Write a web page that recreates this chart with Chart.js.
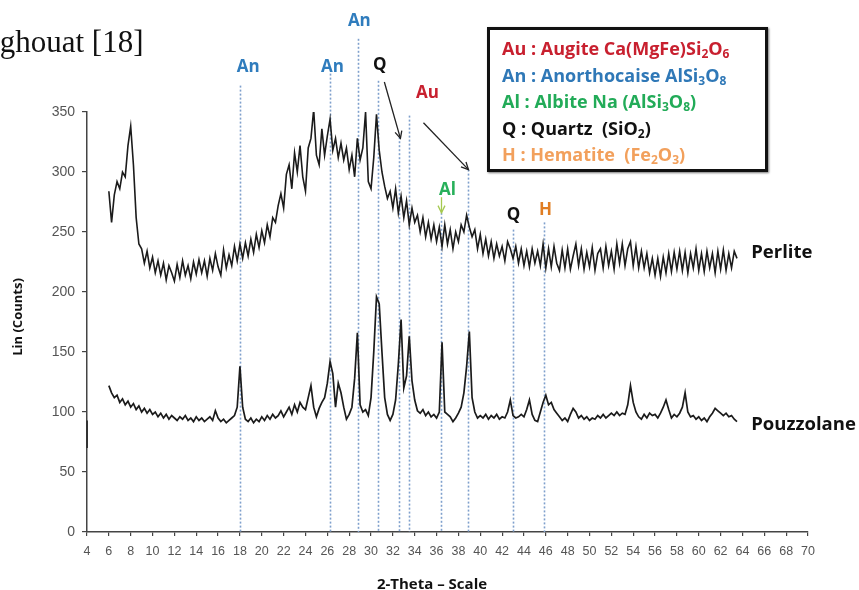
<!DOCTYPE html>
<html>
<head>
<meta charset="utf-8">
<script src="https://cdn.jsdelivr.net/npm/chart.js@4"></script>
<style>
  html, body { margin:0; padding:0; background:#fff; width:859px; height:590px; overflow:hidden; }
  #wrap { position:relative; width:859px; height:590px; }
  canvas { position:absolute; left:0; top:0; }
  #caption { position:absolute; left:-33px; top:24px; font-family:"Liberation Serif", "Times New Roman", serif; font-size:31px; line-height:36px; color:#111; white-space:nowrap; }
  #key { position:absolute; left:487px; top:27px; width:263px; height:139px; border:3px solid #111; box-shadow:1px 1px 2px #777; background:#fff;
         font-family:"Open Sans", sans-serif; font-weight:700; font-size:18px; padding:0 0 0 12px; box-sizing:content-box; overflow:hidden; }
  #key div { height:26.5px; line-height:26.5px; white-space:nowrap; }
  #key sub { font-size:12px; vertical-align:-3px; line-height:0; }
</style>
</head>
<body>
<div id="wrap">
  <canvas id="c" width="859" height="590"></canvas>
  <div id="caption">Laghouat [18]</div>
  <div id="key">
    <div style="color:#c8202f;margin-top:5px">Au : Augite Ca(MgFe)Si<sub>2</sub>O<sub>6</sub></div>
    <div style="color:#2f78b7">An : Anorthocaise AlSi<sub>3</sub>O<sub>8</sub></div>
    <div style="color:#22ab58">Al : Albite Na (AlSi<sub>3</sub>O<sub>8</sub>)</div>
    <div style="color:#111">Q : Quartz&nbsp; (SiO<sub>2</sub>)</div>
    <div style="color:#f2a05c">H : Hematite&nbsp; (Fe<sub>2</sub>O<sub>3</sub>)</div>
  </div>
</div>
<script>
// 2-Theta sampling grid (degrees)
const theta = [6,6.25,6.5,6.75,7,7.25,7.5,7.75,8,8.25,8.5,8.75,9,9.25,9.5,9.75,10,10.25,10.5,10.75,
11,11.25,11.5,11.75,12,12.25,12.5,12.75,13,13.25,13.5,13.75,14,14.25,14.5,14.75,15,15.25,15.5,15.75,
16,16.25,16.5,16.75,17,17.25,17.5,17.75,18,18.25,18.5,18.75,19,19.25,19.5,19.75,20,20.25,20.5,20.75,
21,21.25,21.5,21.75,22,22.25,22.5,22.75,23,23.25,23.5,23.75,24,24.25,24.5,24.75,25,25.25,25.5,25.75,
26,26.25,26.5,26.75,27,27.25,27.5,27.75,28,28.25,28.5,28.75,29,29.25,29.5,29.75,30,30.25,30.5,30.75,
31,31.25,31.5,31.75,32,32.25,32.5,32.75,33,33.25,33.5,33.75,34,34.25,34.5,34.75,35,35.25,35.5,35.75,
36,36.25,36.5,36.75,37,37.25,37.5,37.75,38,38.25,38.5,38.75,39,39.25,39.5,39.75,40,40.25,40.5,40.75,
41,41.25,41.5,41.75,42,42.25,42.5,42.75,43,43.25,43.5,43.75,44,44.25,44.5,44.75,45,45.25,45.5,45.75,
46,46.25,46.5,46.75,47,47.25,47.5,47.75,48,48.25,48.5,48.75,49,49.25,49.5,49.75,50,50.25,50.5,50.75,
51,51.25,51.5,51.75,52,52.25,52.5,52.75,53,53.25,53.5,53.75,54,54.25,54.5,54.75,55,55.25,55.5,55.75,
56,56.25,56.5,56.75,57,57.25,57.5,57.75,58,58.25,58.5,58.75,59,59.25,59.5,59.75,60,60.25,60.5,60.75,
61,61.25,61.5,61.75,62,62.25,62.5,62.75,63,63.25,63.5];

// Lin (Counts) — Perlite
const perlite = [284,258,281,292,286,300,296,322,338,306,262,240,236,224,234,220,229,216,226,214,
224,210,222,216,209,223,212,226,214,222,211,225,215,227,216,226,213,228,218,232,
221,214,235,220,231,222,238,226,240,228,241,230,244,233,248,237,251,241,256,246,
262,258,272,282,270,298,306,286,316,300,322,296,284,320,328,352,314,306,336,314,
330,344,318,328,312,324,310,320,302,314,296,328,310,320,350,292,286,312,348,318,
300,288,278,284,270,286,266,280,262,276,256,270,258,264,250,262,246,258,244,256,
242,254,238,256,240,252,236,250,242,256,250,264,254,246,252,236,248,232,244,230,
242,228,240,230,238,226,242,236,228,238,224,236,222,234,221,236,224,234,222,240,
220,236,221,238,224,218,235,220,236,219,230,240,222,236,219,233,221,237,218,232,
236,220,238,222,234,219,240,224,240,222,236,242,222,238,220,234,220,232,216,228,
214,228,213,229,216,232,217,233,219,234,218,233,216,232,220,236,218,232,217,234,
220,232,216,234,219,235,218,232,220,234,228];

// Lin (Counts) — Pouzzolane
const pouzzolane = [122,116,112,114,108,111,106,109,104,107,102,105,100,103,99,102,98,100,96,99,
95,98,94,97,95,93,96,94,97,93,95,92,96,93,95,92,94,96,93,101,
95,92,94,91,93,95,97,104,138,104,94,92,95,91,94,92,96,93,97,94,
98,95,97,101,96,100,104,98,106,100,108,104,102,112,122,104,96,103,108,112,
124,142,132,104,124,116,104,94,98,104,128,166,106,100,102,97,112,150,196,190,
150,112,98,93,98,110,140,177,120,130,163,126,110,101,99,102,97,100,96,98,
95,100,158,100,98,96,92,95,99,104,116,138,167,112,100,95,97,95,98,94,
97,95,98,94,96,95,100,110,97,95,96,98,96,102,110,98,93,92,100,108,
114,106,108,102,99,96,93,95,92,98,103,100,95,97,94,96,93,95,94,97,
95,98,95,97,99,97,100,97,99,98,106,122,108,100,96,94,98,95,99,97,
98,95,99,104,110,102,95,98,96,99,104,116,100,96,97,94,96,93,95,92,
96,99,103,101,99,97,99,96,97,94,92];

// short trace at the very start of the scan (left edge)
const startTheta = [4, 4];
const startCounts = [93, 70];

// Phase reference lines: position (2θ) and top of the dotted line (counts)
const refTheta = [18.0, 26.2, 28.8, 30.6, 32.6, 33.5, 36.4, 38.9, 43.0, 45.8];
const refTop   = [372, 382, 411, 376, 329, 347, 266, 302, 252, 258];

// Phase labels
const tagText  = ['An', 'An', 'An', 'Q', 'Au', 'Al', 'Q', 'H'];
const tagTheta = [18.76, 26.46, 28.93, 30.81, 35.16, 37.0, 43.05, 45.98];
const tagCount = [387, 387, 426, 389, 366, 285, 264, 268];
const tagColor = ['#2f7cbd', '#2f7cbd', '#2f7cbd', '#111111', '#c8202f', '#27b05a', '#111111', '#e07d22'];

// Arrows: [theta0, count0, theta1, count1, colour]
const arrows = [
  [31.22, 375, 32.69, 328, '#222'],
  [34.80, 341, 38.92, 302, '#222'],
  [36.45, 279, 36.45, 266, '#a5c94f']
];

// Series names
const seriesNames = ['Perlite', 'Pouzzolane'];
const seriesNameTheta = [64.8, 64.8];
const seriesNameCount = [233, 89];

const xTicksStep = 2, yTicksStep = 50;

const toXY = (xs, ys) => xs.map((t, i) => ({ x: t, y: ys[i] }));

const overlay = {
  id: 'overlay',
  beforeDatasetsDraw(chart) {
    const { ctx, scales: { x, y } } = chart;
    ctx.save();
    ctx.strokeStyle = '#7fa0cc';
    ctx.lineWidth = 1.6;
    ctx.setLineDash([2, 2]);
    refTheta.forEach((t, i) => {
      const px = Math.round(x.getPixelForValue(t)) + 0.5;
      ctx.beginPath();
      ctx.moveTo(px, y.getPixelForValue(refTop[i]));
      ctx.lineTo(px, y.getPixelForValue(0));
      ctx.stroke();
    });
    ctx.restore();
  },
  afterDraw(chart) {
    const { ctx, scales: { x, y }, chartArea } = chart;
    ctx.save();
    ctx.textAlign = 'center';
    ctx.textBaseline = 'middle';
    ctx.font = '700 17px "Open Sans", sans-serif';
    tagText.forEach((s, i) => {
      ctx.fillStyle = tagColor[i];
      ctx.fillText(s, x.getPixelForValue(tagTheta[i]), y.getPixelForValue(tagCount[i]));
    });
    arrows.forEach(a => {
      const x0 = x.getPixelForValue(a[0]), y0 = y.getPixelForValue(a[1]);
      const x1 = x.getPixelForValue(a[2]), y1 = y.getPixelForValue(a[3]);
      ctx.strokeStyle = a[4];
      ctx.lineWidth = 1.3;
      ctx.beginPath(); ctx.moveTo(x0, y0); ctx.lineTo(x1, y1); ctx.stroke();
      const ang = Math.atan2(y1 - y0, x1 - x0), h = 8;
      ctx.beginPath();
      ctx.moveTo(x1 - h * Math.cos(ang - 0.45), y1 - h * Math.sin(ang - 0.45));
      ctx.lineTo(x1, y1);
      ctx.lineTo(x1 - h * Math.cos(ang + 0.45), y1 - h * Math.sin(ang + 0.45));
      ctx.stroke();
    });
    ctx.fillStyle = '#111';
    ctx.textAlign = 'left';
    ctx.font = '700 18.5px "Open Sans", sans-serif';
    seriesNames.forEach((s, i) => {
      ctx.fillText(s, x.getPixelForValue(seriesNameTheta[i]), y.getPixelForValue(seriesNameCount[i]));
    });
    // axis titles
    ctx.font = '700 15px "Open Sans", sans-serif';
    ctx.textAlign = 'center';
    ctx.fillText('2-Theta \u2013 Scale', chartArea.left + 345, chartArea.bottom + 53);
    ctx.font = '700 13px "Open Sans", sans-serif';
    ctx.translate(chartArea.left - 69, chartArea.top + 205);
    ctx.rotate(-Math.PI / 2);
    ctx.fillText('Lin (Counts)', 0, 0);
    ctx.restore();
  }
};

new Chart(document.getElementById('c'), {
  type: 'line',
  data: {
    datasets: [
      { label: seriesNames[0], data: toXY(theta, perlite), borderColor: '#1b1b1b', borderWidth: 1.6, pointRadius: 0, tension: 0 },
      { label: seriesNames[1], data: toXY(theta, pouzzolane), borderColor: '#1b1b1b', borderWidth: 1.7, pointRadius: 0, tension: 0 },
      { label: 'start', data: toXY(startTheta, startCounts), borderColor: '#333', borderWidth: 2, pointRadius: 0, clip: false }
    ]
  },
  options: {
    responsive: false,
    animation: false,
    devicePixelRatio: 1,
    layout: { padding: { left: 0, right: 51, top: 112, bottom: 0 } },
    plugins: { legend: { display: false }, tooltip: { enabled: false } },
    scales: {
      x: {
        type: 'linear', min: 4, max: 70,
        ticks: { stepSize: xTicksStep, autoSkip: false, maxRotation: 0, color: '#555', padding: 8,
                 font: { family: '"Liberation Sans", Arial, sans-serif', size: 12.5 } },
        grid: { drawOnChartArea: false, drawTicks: true, tickLength: 4, color: '#444', lineWidth: 1.2 },
        border: { color: '#444', width: 1.5 },
        afterFit(s) { s.height = 58; }
      },
      y: {
        min: 0, max: 350,
        ticks: { stepSize: yTicksStep, color: '#555', padding: 7,
                 font: { family: '"Liberation Sans", Arial, sans-serif', size: 14 } },
        grid: { drawOnChartArea: false, drawTicks: true, tickLength: 5, color: '#444', lineWidth: 1.2 },
        border: { color: '#444', width: 1.5 },
        afterFit(s) { s.width = 87; }
      }
    }
  },
  plugins: [overlay]
});
</script>
</body>
</html>
